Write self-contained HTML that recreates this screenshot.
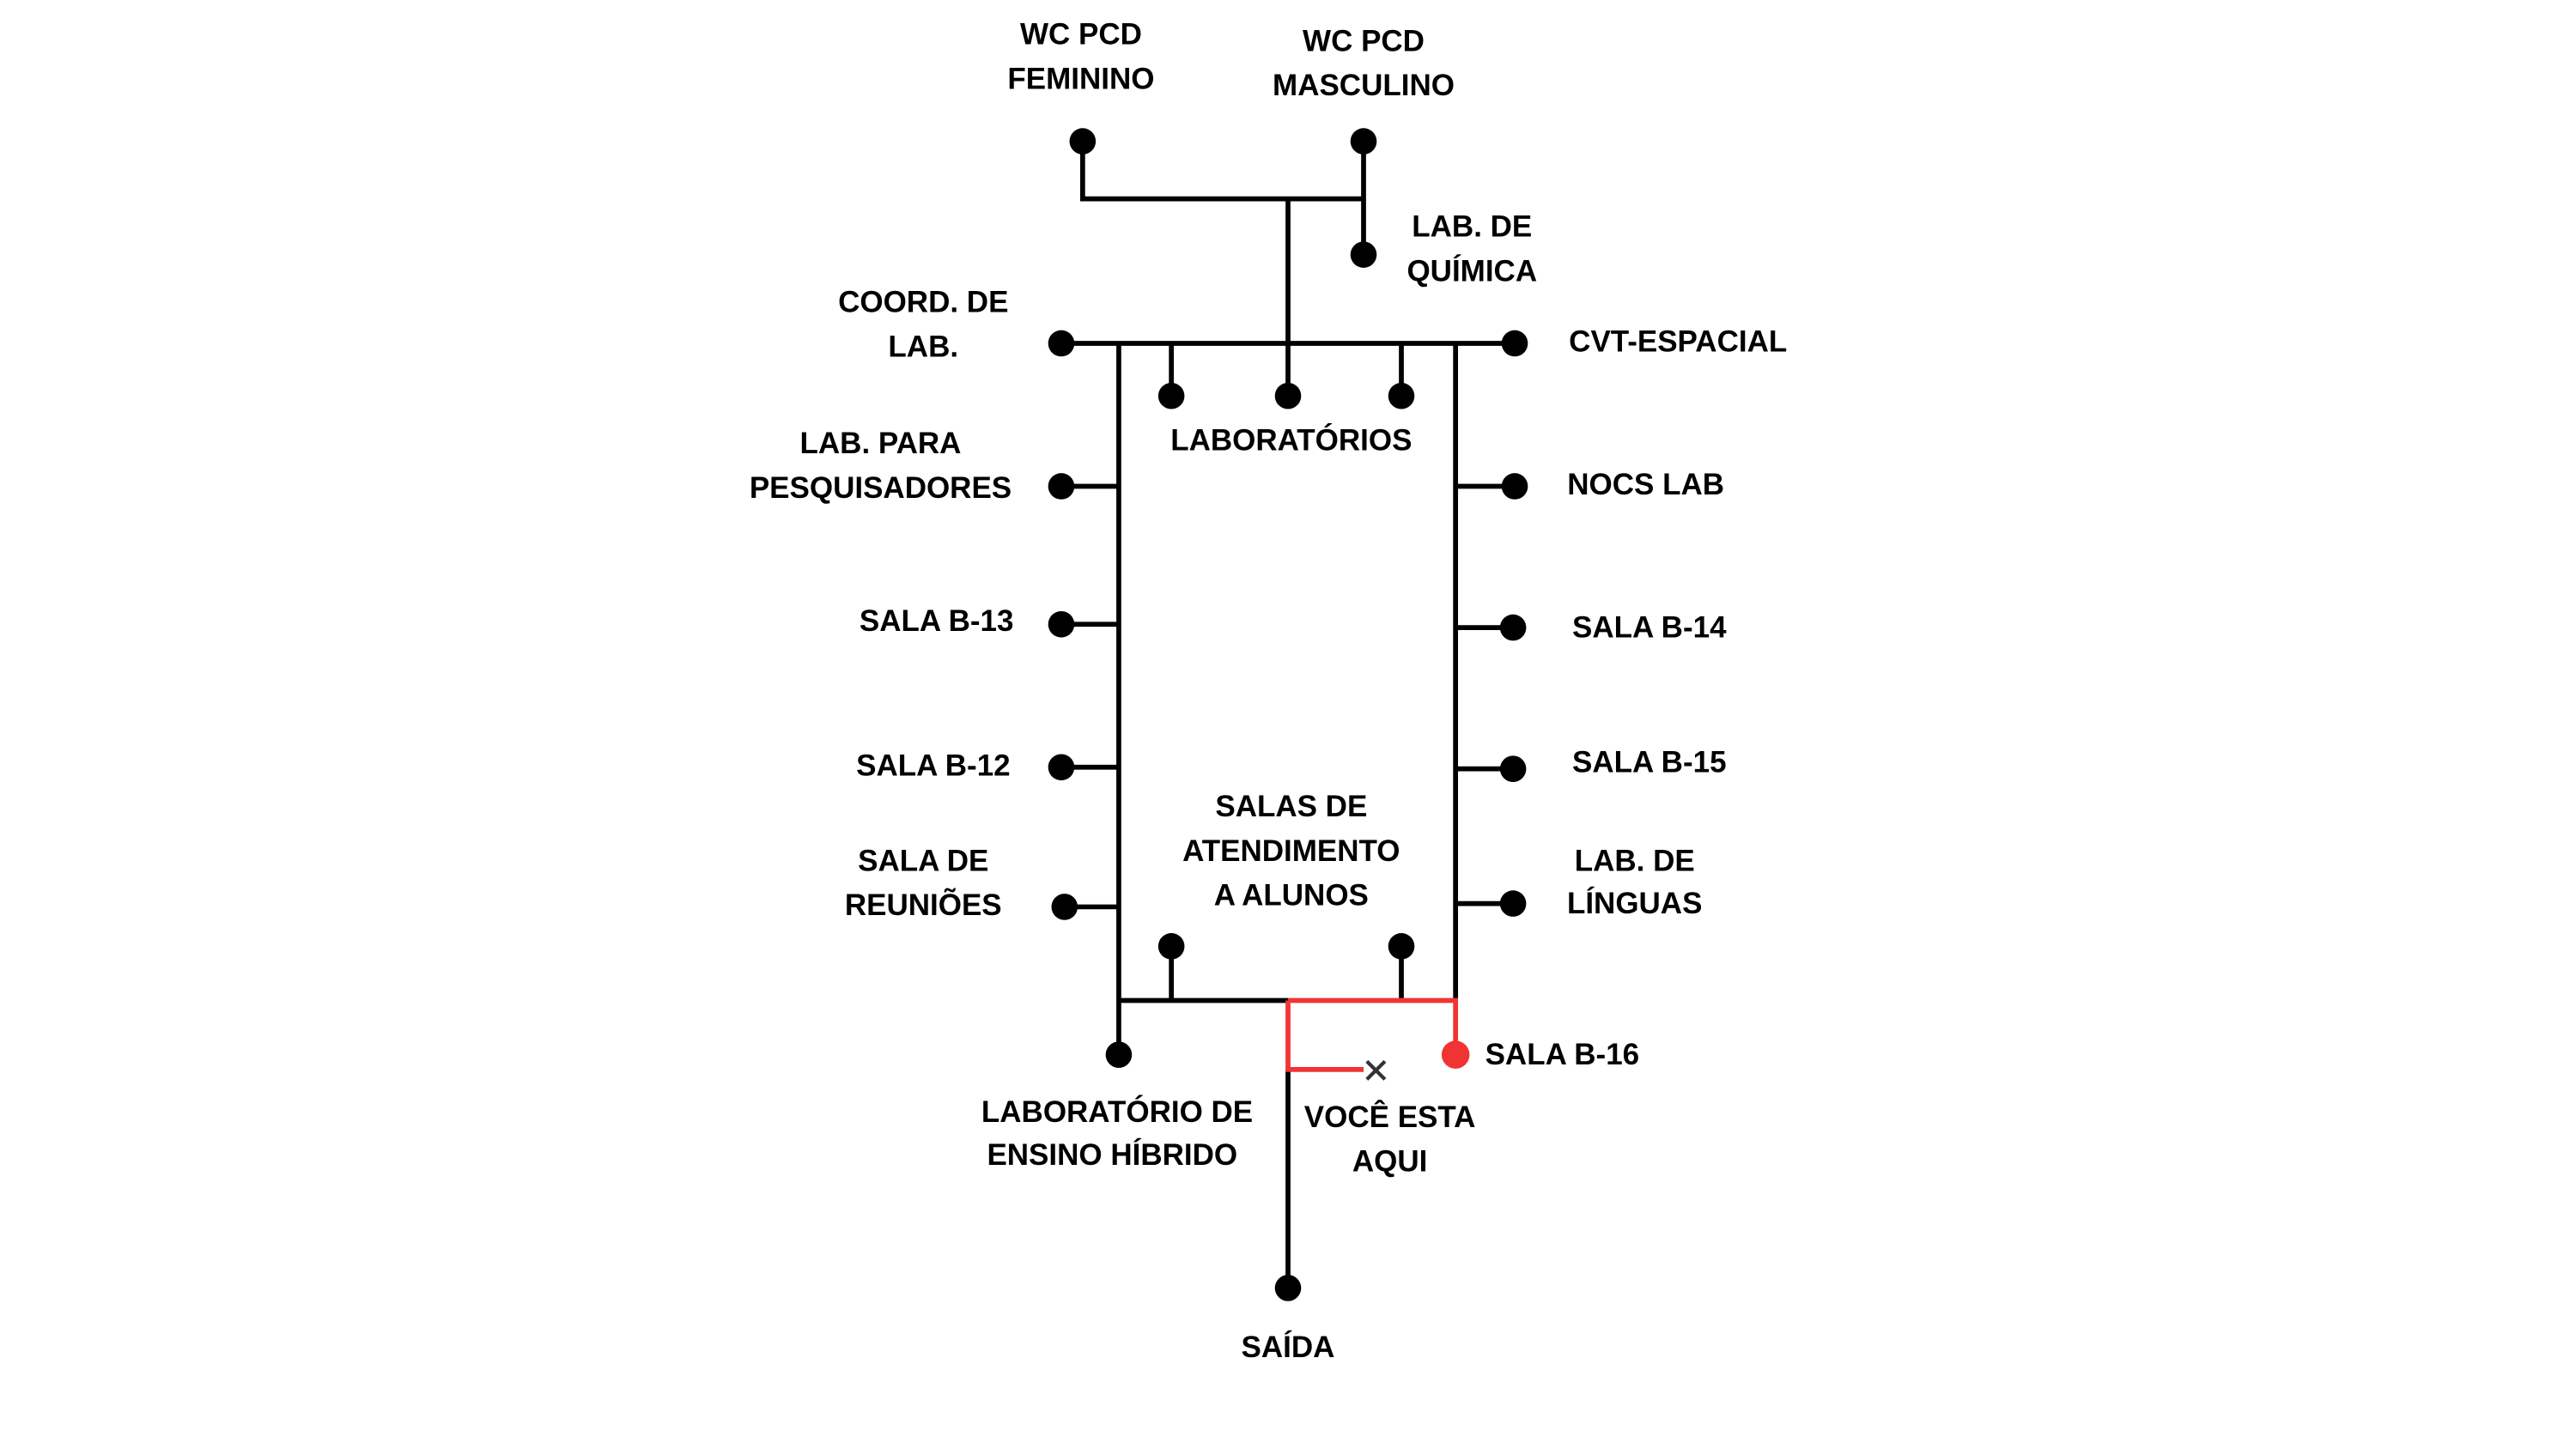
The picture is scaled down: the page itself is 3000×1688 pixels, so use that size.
<!DOCTYPE html>
<html><head><meta charset="utf-8"><style>
html,body{margin:0;padding:0;background:#fff;}
svg{display:block}
text{font-family:"Liberation Sans",sans-serif;font-weight:bold;font-size:18.3px;fill:#000;dominant-baseline:central}
</style></head><body>
<svg width="3000" height="1688" viewBox="0 0 1568 882" preserveAspectRatio="none" xmlns="http://www.w3.org/2000/svg">
<g stroke="#000" stroke-width="3" fill="none">
<polyline points="659,86 659,121 830,121"/>
<line x1="830" y1="86" x2="830" y2="155"/>
<line x1="784" y1="121" x2="784" y2="241"/>
<line x1="646" y1="209" x2="922" y2="209"/>
<line x1="681" y1="209" x2="681" y2="642"/>
<line x1="886" y1="209" x2="886" y2="609"/>
<line x1="713" y1="209" x2="713" y2="241"/>
<line x1="853" y1="209" x2="853" y2="241"/>
<line x1="646" y1="296" x2="681" y2="296"/>
<line x1="646" y1="380" x2="681" y2="380"/>
<line x1="646" y1="467" x2="681" y2="467"/>
<line x1="648" y1="552" x2="681" y2="552"/>
<line x1="886" y1="296" x2="922" y2="296"/>
<line x1="886" y1="382" x2="921" y2="382"/>
<line x1="886" y1="468" x2="921" y2="468"/>
<line x1="886" y1="550" x2="921" y2="550"/>
<line x1="681" y1="609" x2="784" y2="609"/>
<line x1="713" y1="576" x2="713" y2="609"/>
<line x1="853" y1="576" x2="853" y2="609"/>
<line x1="784" y1="651" x2="784" y2="784"/>
</g>
<g stroke="#f03434" stroke-width="3" fill="none">
<polyline points="784,609 886,609 886,642"/>
<polyline points="784,609 784,651 830,651"/>
</g>
<g stroke="#333" stroke-width="2.2">
<line x1="832" y1="646" x2="843" y2="657"/><line x1="843" y1="646" x2="832" y2="657"/>
</g>
<g fill="#000">
<circle cx="659" cy="86" r="8"/><circle cx="830" cy="86" r="8"/><circle cx="830" cy="155" r="8"/>
<circle cx="646" cy="209" r="8"/><circle cx="922" cy="209" r="8"/>
<circle cx="713" cy="241" r="8"/><circle cx="784" cy="241" r="8"/><circle cx="853" cy="241" r="8"/>
<circle cx="646" cy="296" r="8"/><circle cx="646" cy="380" r="8"/><circle cx="646" cy="467" r="8"/><circle cx="648" cy="552" r="8"/>
<circle cx="922" cy="296" r="8"/><circle cx="921" cy="382" r="8"/><circle cx="921" cy="468" r="8"/><circle cx="921" cy="550" r="8"/>
<circle cx="713" cy="576" r="8"/><circle cx="853" cy="576" r="8"/>
<circle cx="681" cy="642" r="8"/><circle cx="784" cy="784" r="8"/>
</g>
<circle cx="886" cy="642" r="8.5" fill="#f03434"/>
<g text-anchor="middle">
<text x="658" y="21">WC PCD</text><text x="658" y="48">FEMININO</text>
<text x="830" y="25">WC PCD</text><text x="830" y="52">MASCULINO</text>
<text x="896" y="138">LAB. DE</text><text x="896" y="165">QUÍMICA</text>
<text x="562" y="184">COORD. DE</text><text x="562" y="211">LAB.</text>
<text x="536" y="270">LAB. PARA</text><text x="536" y="297">PESQUISADORES</text>
<text x="786" y="268">LABORATÓRIOS</text>
<text x="786" y="491">SALAS DE</text><text x="786" y="518">ATENDIMENTO</text><text x="786" y="545">A ALUNOS</text>
<text x="562" y="524">SALA DE</text><text x="562" y="551">REUNIÕES</text>
<text x="995" y="524">LAB. DE</text><text x="995" y="550">LÍNGUAS</text>
<text x="680" y="677">LABORATÓRIO  DE</text><text x="677" y="703">ENSINO HÍBRIDO</text>
<text x="846" y="680">VOCÊ ESTA</text><text x="846" y="707">AQUI</text>
<text x="784" y="820">SAÍDA</text>
</g>
<g text-anchor="start">
<text x="955" y="208">CVT-ESPACIAL</text>
<text x="954" y="295">NOCS LAB</text>
<text x="957" y="382">SALA B-14</text>
<text x="957" y="464">SALA B-15</text>
<text x="904" y="642">SALA B-16</text>
</g>
<g text-anchor="end">
<text x="617" y="378">SALA B-13</text>
<text x="615" y="466">SALA B-12</text>
</g>
</svg>
</body></html>
